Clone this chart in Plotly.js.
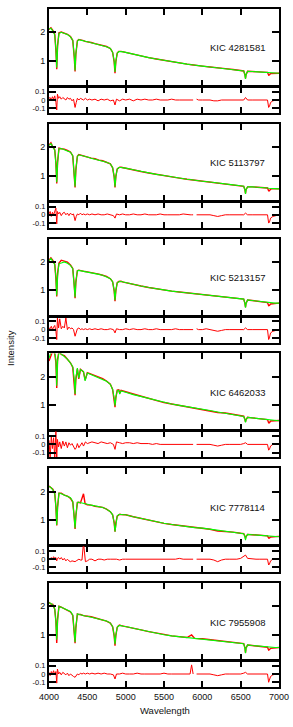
<!DOCTYPE html>
<html><head><meta charset="utf-8">
<script src="https://cdn.plot.ly/plotly-3.0.1.min.js"></script>
<style>html,body{margin:0;padding:0;background:#fff}#chart{width:293px;height:727px}</style>
</head><body><div id="chart"></div>
<script>
const starNames = ['KIC 4281581','KIC 5113797','KIC 5213157','KIC 6462033','KIC 7778114','KIC 7955908'];

const wavelength = [4000,4025,4050,4075,4090,4101,4112,4130,4160,4200,4240,4280,4310,4330,4340,4350,4370,4388,4410,4450,4471,4500,4550,4600,4650,4700,4750,4800,4830,4850,4861,4872,4890,4910,4922,4940,4970,5000,5100,5200,5300,5400,5500,5600,5700,5800,5860,5900,6000,6100,6200,6300,6400,6500,6540,6556,6563,6570,6590,6650,6750,6850,6865,6875,6890,6950,7000];

const model1 = [2.12,2.14,2.05,1.90,1.40,0.75,1.50,1.96,2.00,1.96,1.92,1.84,1.72,1.15,0.66,1.25,1.68,1.74,1.73,1.70,1.69,1.67,1.63,1.60,1.56,1.53,1.49,1.43,1.30,0.98,0.60,0.98,1.26,1.32,1.33,1.32,1.31,1.29,1.23,1.17,1.11,1.06,1.01,0.96,0.92,0.88,0.86,0.84,0.81,0.78,0.75,0.72,0.69,0.66,0.64,0.50,0.36,0.50,0.63,0.62,0.61,0.59,0.58,0.58,0.57,0.57,0.56];
const observed1 = [2.10,2.16,2.07,1.93,1.37,0.70,1.55,1.98,2.01,1.98,1.93,1.85,1.71,1.10,0.62,1.22,1.70,1.75,1.74,1.71,1.68,1.67,1.64,1.60,1.57,1.53,1.50,1.43,1.29,0.96,0.56,0.97,1.27,1.33,1.32,1.33,1.31,1.29,1.23,1.18,1.11,1.06,1.01,0.96,0.92,0.88,0.86,0.84,0.81,0.78,0.74,0.72,0.69,0.66,0.64,0.50,0.38,0.51,0.63,0.62,0.61,0.59,0.49,0.50,0.55,0.57,0.56];

const model2 = [2.06,2.12,2.02,1.88,1.40,0.76,1.45,1.94,1.95,1.91,1.87,1.82,1.70,1.10,0.61,1.20,1.67,1.73,1.71,1.67,1.66,1.65,1.61,1.58,1.54,1.51,1.47,1.41,1.28,0.96,0.61,0.96,1.22,1.28,1.29,1.28,1.27,1.26,1.20,1.14,1.09,1.04,1.00,0.95,0.91,0.87,0.85,0.83,0.80,0.77,0.73,0.70,0.67,0.64,0.62,0.49,0.35,0.49,0.60,0.60,0.59,0.56,0.55,0.55,0.54,0.54,0.53];
const observed2 = [2.07,2.15,2.00,1.91,1.45,0.72,1.48,1.96,1.94,1.93,1.88,1.83,1.69,1.05,0.58,1.18,1.68,1.74,1.72,1.68,1.66,1.66,1.61,1.59,1.54,1.52,1.47,1.41,1.27,0.95,0.58,0.97,1.23,1.28,1.29,1.29,1.27,1.26,1.21,1.14,1.09,1.04,1.00,0.95,0.91,0.87,0.85,0.83,0.80,0.77,0.72,0.70,0.67,0.64,0.62,0.49,0.37,0.50,0.60,0.60,0.59,0.56,0.46,0.46,0.52,0.54,0.53];

const model3 = [2.04,2.12,2.02,1.90,1.45,0.82,1.50,1.94,1.96,2.00,1.95,1.88,1.76,1.20,0.76,1.30,1.68,1.70,1.69,1.67,1.66,1.65,1.62,1.59,1.56,1.53,1.48,1.41,1.30,1.00,0.65,1.00,1.26,1.31,1.32,1.31,1.29,1.26,1.21,1.15,1.10,1.05,1.00,0.97,0.94,0.91,0.89,0.88,0.85,0.82,0.79,0.76,0.73,0.71,0.69,0.53,0.39,0.53,0.66,0.64,0.61,0.57,0.57,0.56,0.56,0.55,0.55];
const observed3 = [2.06,2.14,2.05,1.92,1.42,0.78,1.62,1.96,2.06,2.02,1.99,1.89,1.77,1.15,0.72,1.27,1.69,1.71,1.69,1.68,1.66,1.65,1.63,1.59,1.57,1.53,1.49,1.41,1.30,0.98,0.62,0.99,1.27,1.31,1.32,1.32,1.29,1.27,1.21,1.15,1.10,1.05,1.00,0.97,0.94,0.91,0.89,0.88,0.85,0.82,0.78,0.76,0.73,0.71,0.69,0.53,0.41,0.54,0.66,0.64,0.61,0.57,0.46,0.47,0.52,0.54,0.55];

const model4 = [2.65,2.86,2.90,2.86,2.60,1.68,2.55,2.85,2.80,2.72,2.62,2.48,2.35,1.90,1.39,1.95,2.30,1.95,2.25,2.18,1.85,2.13,2.07,2.02,1.97,1.91,1.84,1.73,1.55,1.25,0.98,1.25,1.50,1.52,1.39,1.50,1.47,1.45,1.37,1.30,1.23,1.16,1.09,1.04,0.99,0.95,0.92,0.90,0.86,0.81,0.76,0.72,0.67,0.62,0.60,0.48,0.39,0.48,0.57,0.55,0.52,0.49,0.48,0.48,0.47,0.46,0.45];
const observed4 = [2.55,2.70,2.92,2.80,2.50,1.60,2.62,2.90,2.78,2.74,2.60,2.49,2.33,1.82,1.35,1.90,2.28,1.92,2.26,2.17,1.88,2.14,2.09,2.03,1.99,1.93,1.85,1.74,1.55,1.22,0.93,1.27,1.53,1.54,1.42,1.52,1.49,1.47,1.39,1.31,1.24,1.16,1.09,1.04,0.99,0.95,0.92,0.90,0.86,0.81,0.74,0.72,0.67,0.62,0.61,0.49,0.41,0.49,0.57,0.55,0.52,0.49,0.38,0.38,0.44,0.46,0.46];

const model5 = [2.18,2.14,2.06,1.92,1.45,0.82,1.45,1.94,1.92,1.88,1.83,1.78,1.65,1.10,0.71,1.15,1.62,1.62,1.61,1.58,1.57,1.55,1.52,1.50,1.47,1.44,1.38,1.29,1.18,0.90,0.59,0.90,1.14,1.19,1.20,1.19,1.18,1.18,1.11,1.05,0.99,0.93,0.88,0.84,0.80,0.76,0.74,0.73,0.71,0.67,0.64,0.60,0.57,0.53,0.51,0.40,0.29,0.40,0.49,0.48,0.46,0.44,0.43,0.43,0.43,0.42,0.41];
const observed5 = [2.19,2.13,2.08,1.92,1.47,0.80,1.46,1.94,1.94,1.87,1.84,1.76,1.63,1.07,0.68,1.13,1.61,1.62,1.60,1.92,1.57,1.53,1.52,1.48,1.47,1.44,1.38,1.29,1.18,0.90,0.59,0.90,1.13,1.19,1.20,1.19,1.18,1.18,1.11,1.05,0.99,0.93,0.88,0.84,0.81,0.76,0.74,0.73,0.71,0.67,0.61,0.60,0.57,0.53,0.52,0.43,0.34,0.41,0.49,0.48,0.46,0.44,0.36,0.36,0.40,0.42,0.42];

const model6 = [2.12,2.10,2.04,1.90,1.45,0.82,1.50,2.00,1.97,1.92,1.87,1.82,1.70,1.15,0.74,1.25,1.73,1.72,1.70,1.67,1.66,1.65,1.62,1.59,1.56,1.53,1.48,1.41,1.29,0.98,0.67,0.98,1.26,1.32,1.33,1.32,1.30,1.29,1.23,1.17,1.11,1.05,1.00,0.96,0.93,0.90,0.88,0.87,0.86,0.83,0.80,0.77,0.74,0.71,0.68,0.52,0.35,0.52,0.64,0.62,0.59,0.56,0.56,0.55,0.55,0.55,0.55];
const observed6 = [2.14,2.08,2.07,1.90,1.48,0.71,1.56,2.00,1.97,1.91,1.86,1.80,1.68,1.11,0.70,1.23,1.73,1.71,1.71,1.67,1.67,1.65,1.63,1.59,1.57,1.53,1.48,1.41,1.28,0.96,0.61,0.98,1.26,1.32,1.34,1.32,1.30,1.29,1.23,1.17,1.11,1.05,1.01,0.96,0.93,0.90,0.99,0.87,0.86,0.83,0.78,0.77,0.74,0.71,0.69,0.53,0.37,0.53,0.64,0.62,0.59,0.56,0.46,0.47,0.52,0.54,0.55];

const residWavelength = [4000,4015,4030,4045,4060,4075,4090,4101,4110,4125,4140,4160,4180,4200,4220,4240,4260,4280,4300,4320,4340,4355,4370,4390,4410,4430,4450,4475,4500,4530,4560,4600,4640,4680,4720,4760,4800,4840,4861,4880,4920,4960,5000,5050,5100,5150,5200,5250,5300,5350,5400,5450,5500,5550,5600,5650,5700,5750,5800,5840,5860,5880,5900,5925,5950,6000,6050,6100,6150,6200,6250,6300,6350,6400,6450,6500,6540,6563,6590,6650,6700,6750,6800,6850,6865,6875,6890,6920,6960,7000];

const resid1 = [0.02,0.03,0.00,0.04,0.01,0.05,-0.03,-0.12,0.07,0.02,0.04,0.01,0.03,0.02,0.00,0.03,0.01,0.02,-0.01,0.01,-0.09,-0.03,0.02,0.00,0.02,0.01,0.00,0.02,0.00,0.01,0.00,0.01,-0.01,0.01,0.00,0.01,-0.01,0.00,-0.06,0.01,-0.01,0.01,0.00,0.01,-0.01,0.01,0.00,0.01,0.00,0.00,0.01,0.00,0.00,0.00,0.01,0.00,0.00,0.00,0.00,0.00,0.00,0.00,null,0.01,0.00,0.00,0.00,0.00,-0.01,-0.01,0.00,0.00,0.00,0.00,0.00,0.00,0.00,0.03,0.00,0.00,0.00,0.00,0.00,0.00,-0.09,-0.08,-0.03,-0.01,0.00,0.00];
const resid2 = [0.01,0.04,-0.02,0.03,0.00,0.05,0.08,-0.11,0.04,0.01,0.03,-0.01,0.02,0.03,0.00,0.02,-0.01,0.02,0.00,0.01,-0.07,-0.02,0.01,0.00,0.02,0.00,0.01,0.00,0.01,0.00,0.01,0.00,0.01,0.00,0.00,0.01,0.00,-0.01,-0.04,0.01,0.00,0.01,0.00,0.00,0.01,0.00,0.00,0.01,0.00,0.00,0.00,0.01,0.00,0.00,0.00,0.00,0.00,0.01,0.00,0.00,0.00,0.00,null,0.00,0.00,0.00,0.00,0.00,-0.01,-0.02,-0.01,0.00,0.00,0.00,0.00,0.00,0.00,0.02,0.00,0.00,0.00,0.00,0.00,0.00,-0.10,-0.09,-0.04,-0.02,-0.01,0.00];
const resid3 = [0.02,0.01,0.04,0.00,0.03,0.05,-0.02,-0.12,0.14,0.02,0.13,0.01,0.04,0.02,0.14,0.00,0.03,0.01,0.02,0.00,-0.08,-0.03,0.01,0.02,0.00,0.01,0.00,0.01,0.00,0.01,0.00,0.01,0.00,0.01,0.00,0.00,0.01,0.00,-0.04,0.01,0.00,0.00,0.01,0.00,0.01,0.00,0.00,0.01,0.00,0.00,0.01,0.00,0.00,0.00,0.00,0.01,0.00,0.00,0.00,0.00,0.00,0.00,null,0.01,0.00,0.00,0.01,0.00,-0.01,-0.02,-0.01,0.00,0.00,0.00,0.00,0.00,0.00,0.02,0.00,0.00,0.00,0.00,0.00,0.00,-0.12,-0.10,-0.04,-0.02,-0.01,0.00];
const resid4 = [0.05,-0.17,0.10,-0.05,0.08,-0.17,0.17,-0.17,0.06,-0.03,0.03,-0.05,0.04,-0.02,0.03,-0.04,0.02,-0.01,0.01,-0.03,-0.06,-0.04,0.01,-0.04,0.00,0.02,-0.02,0.03,0.01,0.02,0.03,0.02,0.01,0.03,0.02,0.01,0.02,0.00,-0.06,0.03,0.02,0.01,0.02,0.02,0.01,0.02,0.01,0.01,0.01,0.00,0.01,0.00,0.00,0.00,0.00,0.00,0.00,0.00,0.00,0.00,0.00,0.00,null,0.00,0.00,0.00,0.00,0.00,-0.01,-0.02,-0.01,0.00,0.00,0.00,0.00,0.00,0.01,0.02,0.00,0.00,0.00,0.00,0.00,0.00,-0.07,-0.06,-0.02,0.00,0.01,0.01];
const resid5 = [0.01,-0.01,0.02,0.00,0.03,0.01,0.02,-0.02,0.01,0.02,0.00,0.02,-0.01,0.01,-0.02,0.00,-0.02,-0.03,-0.02,-0.03,-0.03,-0.02,-0.01,0.00,-0.01,-0.01,0.20,-0.03,-0.02,0.00,0.00,-0.02,0.00,0.00,-0.01,0.00,0.00,0.00,0.00,0.00,-0.01,0.00,0.00,0.00,0.00,0.00,0.00,0.00,0.00,0.00,0.00,0.00,0.00,0.00,0.00,0.00,0.01,0.00,0.00,0.00,0.00,0.00,null,0.00,0.00,0.00,0.00,0.00,-0.01,-0.03,-0.01,0.00,0.00,0.00,0.00,0.01,0.03,0.05,0.01,0.00,0.00,0.00,0.00,0.00,-0.07,-0.06,-0.02,0.00,0.00,0.01];
const resid6 = [0.02,-0.02,0.03,0.00,0.04,-0.01,0.03,-0.11,0.06,0.00,0.02,-0.01,0.02,0.00,-0.01,0.01,-0.02,0.00,-0.02,-0.03,-0.04,-0.02,0.00,-0.01,0.01,0.00,0.01,0.00,0.01,0.00,0.01,0.00,0.01,0.00,0.01,0.00,0.00,-0.01,-0.06,0.00,0.00,0.01,0.00,0.00,0.00,0.01,0.00,0.00,0.00,0.00,0.00,0.00,0.01,0.00,0.00,0.00,0.00,0.00,0.00,0.00,0.11,0.00,null,0.00,0.00,0.00,0.00,0.00,-0.01,-0.02,-0.01,0.00,0.00,0.00,0.00,0.00,0.01,0.02,0.00,0.00,0.00,0.00,0.00,0.00,-0.10,-0.08,-0.03,-0.01,0.00,0.00];

const xTickValues = [4000,4500,5000,5500,6000,6500,7000];
const mainTickValues = [1,2];
const mainTickText = ['1','2'];
const residTickValues = [-0.1,0,0.1];
const residTickText = ['-0.1','0','0.1'];
const xRange = [4000,7000];
const mainRange = [0.11,2.82];
const residRange = [-0.157,0.157];

const models = [model1,model2,model3,model4,model5,model6];
const observeds = [observed1,observed2,observed3,observed4,observed5,observed6];
const resids = [resid1,resid2,resid3,resid4,resid5,resid6];

// geometry (pixels)
const W = 293, H = 727, ML = 49, MR = 14, MT = 9, MB = 40;
const plotH = H - MT - MB;
const pitch = 114.8, mainH = 77, panelH = 104;
const toPaper = py => 1 - (py - MT) / plotH;

const FONT = 'Liberation Sans, Arial, Helvetica, sans-serif';
const RED = '#ff0000', GREEN = '#00ff00';

const data = [];
const layout = {
  width: W, height: H,
  margin: {l: ML, r: MR, t: MT, b: MB, pad: 0},
  paper_bgcolor: '#ffffff', plot_bgcolor: '#ffffff',
  showlegend: false, hovermode: false,
  font: {family: FONT, size: 9, color: '#111'},
  annotations: []
};

const axCommon = {
  showline: true, linewidth: 2, linecolor: '#000', mirror: 'ticks',
  ticks: 'inside', tickwidth: 2, tickcolor: '#000',
  showgrid: false, zeroline: false, fixedrange: true,
  tickfont: {family: FONT, size: 9, color: '#111'}
};

for (let k = 0; k < 6; k++) {
  const top = MT + pitch * k;
  const mainBottom = top + mainH;
  const resTop = mainBottom + 1;
  const resBottom = top + panelH;
  const im = 2 * k + 1, ir = 2 * k + 2;
  const xm = 'x' + im, ym = 'y' + im, xr = 'x' + ir, yr = 'y' + ir;
  const xmKey = 'xaxis' + im, ymKey = 'yaxis' + im, xrKey = 'xaxis' + ir, yrKey = 'yaxis' + ir;

  data.push({x: wavelength, y: observeds[k], xaxis: xm, yaxis: ym, type: 'scatter', mode: 'lines',
    line: {color: RED, width: 1.4}});
  data.push({x: wavelength, y: models[k], xaxis: xm, yaxis: ym, type: 'scatter', mode: 'lines',
    line: {color: GREEN, width: 1.1}});
  data.push({x: residWavelength, y: resids[k], xaxis: xr, yaxis: yr, type: 'scatter', mode: 'lines',
    connectgaps: false, line: {color: RED, width: 1}});

  layout[xmKey] = Object.assign({}, axCommon, {domain: [0, 1], anchor: ym, range: xRange,
    tickvals: xTickValues, ticklen: 6, showticklabels: false});
  layout[ymKey] = Object.assign({}, axCommon, {domain: [toPaper(mainBottom), toPaper(top)], anchor: xm,
    range: mainRange, tickvals: mainTickValues, ticktext: mainTickText, ticklen: 7});
  layout[xrKey] = Object.assign({}, axCommon, {domain: [0, 1], anchor: yr, range: xRange,
    tickvals: xTickValues, ticklen: 6, showticklabels: k === 5});
  layout[yrKey] = Object.assign({}, axCommon, {domain: [toPaper(resBottom), toPaper(resTop)], anchor: xr,
    range: residRange, tickvals: residTickValues, ticktext: residTickText, ticklen: 7,
    tickfont: {family: FONT, size: 7.5, color: '#111'}});

  layout.annotations.push({text: starNames[k], xref: 'paper', yref: 'paper',
    x: (267 - ML) / (W - ML - MR), y: toPaper(top + 39), xanchor: 'right', yanchor: 'middle',
    showarrow: false, font: {family: FONT, size: 9.5, color: '#111'}});
}

layout.annotations.push({text: 'Wavelength', xref: 'paper', yref: 'paper',
  x: (164.5 - ML) / (W - ML - MR), y: toPaper(710), xanchor: 'center', yanchor: 'middle',
  showarrow: false, font: {family: FONT, size: 9.5, color: '#111'}});
layout.annotations.push({text: 'Intensity', xref: 'paper', yref: 'paper',
  x: (10 - ML) / (W - ML - MR), y: toPaper(348), xanchor: 'center', yanchor: 'middle', textangle: -90,
  showarrow: false, font: {family: FONT, size: 9.5, color: '#111'}});

Plotly.newPlot('chart', data, layout, {staticPlot: true, displayModeBar: false});
</script>
</body></html>
